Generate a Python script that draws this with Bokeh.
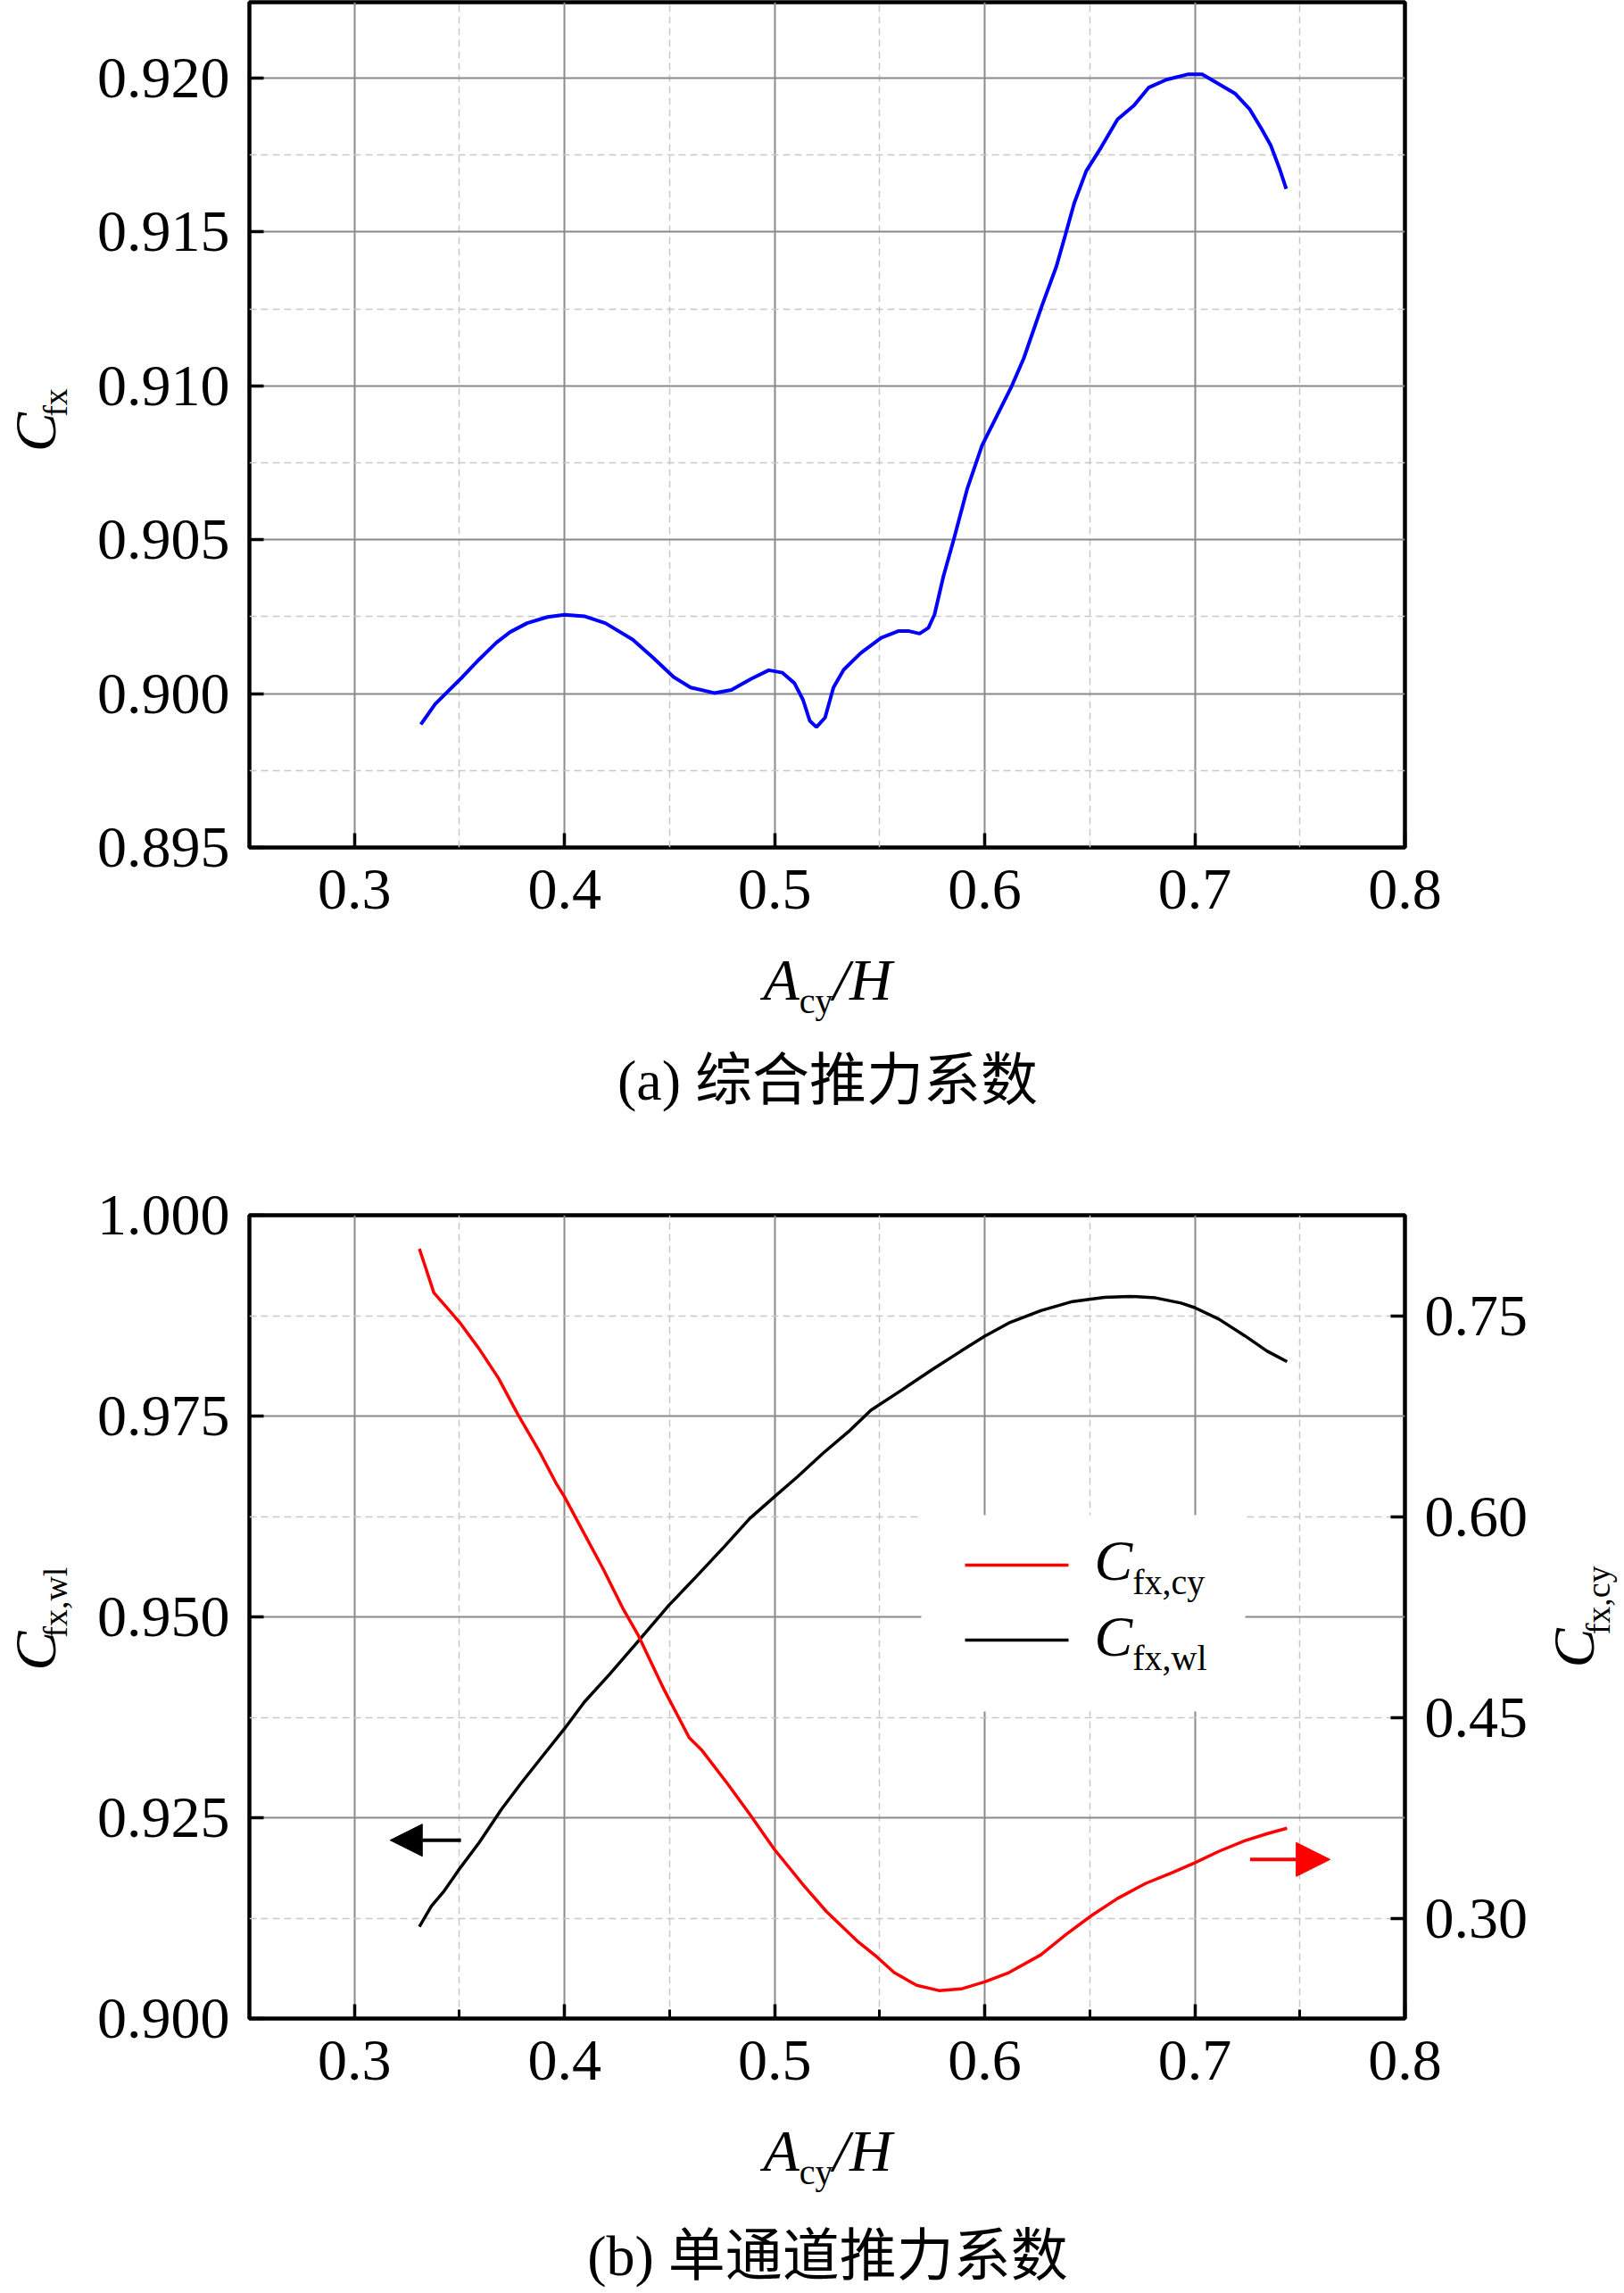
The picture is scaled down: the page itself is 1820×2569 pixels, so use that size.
import math
from bokeh.plotting import figure
from bokeh.models import (Range1d, LinearAxis, FixedTicker, PrintfTickFormatter,
                          Label, Arrow, NormalHead)
from bokeh.layouts import column, row
from bokeh.embed import file_html
from bokeh.resources import INLINE

# ---------------- data ----------------
# (a) combined thrust coefficient
acy_a = [0.3316, 0.3384, 0.3449, 0.3514, 0.3595, 0.3676, 0.3741, 0.3822, 0.3919, 0.4000,
         0.4097, 0.4194, 0.4324, 0.4421, 0.4519, 0.4600, 0.4713, 0.4794, 0.4891, 0.4972,
         0.5037, 0.5094, 0.5135, 0.5167, 0.5199, 0.5240, 0.5280, 0.5329, 0.5410, 0.5507,
         0.5588, 0.5640, 0.5690, 0.5732, 0.5761, 0.5803, 0.5853, 0.5916, 0.5987, 0.6044,
         0.6129, 0.6186, 0.6271, 0.6341, 0.6384, 0.6426, 0.6483, 0.6554, 0.6632, 0.6710,
         0.6780, 0.6865, 0.6965, 0.7035, 0.7106, 0.7191, 0.7262, 0.7319, 0.7361, 0.7404,
         0.7435]
cfx_a = [0.89900, 0.89966, 0.90010, 0.90054, 0.90112, 0.90166, 0.90200, 0.90229, 0.90249, 0.90256,
         0.90251, 0.90229, 0.90176, 0.90117, 0.90054, 0.90020, 0.90002, 0.90012, 0.90049, 0.90076,
         0.90068, 0.90034, 0.89980, 0.89912, 0.89891, 0.89922, 0.90020, 0.90078, 0.90132, 0.90181,
         0.90203, 0.90203, 0.90195, 0.90214, 0.90257, 0.90380, 0.90502, 0.90664, 0.90806, 0.90884,
         0.91000, 0.91090, 0.91258, 0.91388, 0.91491, 0.91594, 0.91698, 0.91775, 0.91866, 0.91911,
         0.91969, 0.91995, 0.92012, 0.92012, 0.91984, 0.91950, 0.91898, 0.91833, 0.91782, 0.91704,
         0.91640]

# (b) single channel thrust coefficients
acy_wl = [0.3309, 0.3366, 0.3427, 0.3503, 0.3594, 0.3700, 0.3791, 0.3897, 0.4000, 0.4094,
          0.4215, 0.4352, 0.4497, 0.4625, 0.4761, 0.4882, 0.4998, 0.5110, 0.5231, 0.5352,
          0.5458, 0.5600, 0.5751, 0.5888, 0.6000, 0.6115, 0.6267, 0.6418, 0.6570, 0.6691,
          0.6813, 0.6934, 0.6999, 0.7116, 0.7237, 0.7343, 0.7439]
cfx_wl = [0.91144, 0.91398, 0.91588, 0.91874, 0.92192, 0.92605, 0.92922, 0.93272, 0.93609, 0.93939,
          0.94288, 0.94701, 0.95146, 0.95496, 0.95877, 0.96226, 0.96493, 0.96747, 0.97039, 0.97306,
          0.97573, 0.97815, 0.98081, 0.98310, 0.98494, 0.98659, 0.98812, 0.98926, 0.98977, 0.98990,
          0.98971, 0.98907, 0.98850, 0.98704, 0.98501, 0.98310, 0.98177]

acy_cy = [0.3309, 0.3336, 0.3378, 0.3457, 0.3503, 0.3594, 0.3685, 0.3776, 0.3882, 0.3958,
          0.4000, 0.4094, 0.4185, 0.4276, 0.4352, 0.4473, 0.4594, 0.4655, 0.4776, 0.4882,
          0.4998, 0.5140, 0.5246, 0.5398, 0.5489, 0.5569, 0.5676, 0.5782, 0.5888, 0.6000,
          0.6115, 0.6267, 0.6388, 0.6509, 0.6631, 0.6767, 0.6889, 0.6999, 0.7116, 0.7237,
          0.7343, 0.7439]
cfx_cy = [0.7999, 0.7872, 0.7671, 0.7529, 0.7445, 0.7251, 0.7034, 0.6767, 0.6481, 0.6253,
          0.6146, 0.5871, 0.5605, 0.5318, 0.5109, 0.4709, 0.4346, 0.4251, 0.4003, 0.3775,
          0.3515, 0.3241, 0.3050, 0.2822, 0.2707, 0.2593, 0.2498, 0.2459, 0.2471, 0.2524,
          0.2593, 0.2726, 0.2879, 0.3020, 0.3146, 0.3260, 0.3337, 0.3413, 0.3500, 0.3577,
          0.3630, 0.3672]

x_ticks = [0.3, 0.4, 0.5, 0.6, 0.7, 0.8]
x_minor = [0.35, 0.45, 0.55, 0.65, 0.75]
ya_ticks = [0.895, 0.900, 0.905, 0.910, 0.915, 0.920]
ya_minor = [0.8975, 0.9025, 0.9075, 0.9125, 0.9175]
yb_ticks = [0.900, 0.925, 0.950, 0.975, 1.000]
yb_minor = [0.9125, 0.9375, 0.9625, 0.9875]
yr_ticks = [0.30, 0.45, 0.60, 0.75]

caption_a = "(a) 综合推力系数"
caption_b = "(b) 单通道推力系数"

# ---------------- layout constants (page pixels, origin top-left) ----------------
SERIF = "Liberation Serif"
CAP_FONT = "Liberation Serif, Noto Sans CJK SC"
MID_H = 0.45                  # label anchor above the baseline (horizontal text), in em
MID_V = 0.3375                # same for rotated text
LW = 100                      # width of the left label strips
FL, FR = 279, 1574            # frame left / right on page
FW = FR - FL
X0, X1 = 0.25, 0.8
A_TOP, A_BOT = 2, 949         # plot (a) frame top / bottom
A_H = 1056                    # plot (a) figure height
CA_H = 1300 - A_H             # caption strip (a) height
B_Y0 = 1300                   # top of plot (b) on page
B_TOP, B_BOT = 1361, 2261     # plot (b) frame top / bottom
B_H = 1068
CB_H = 2566 - (B_Y0 + B_H)
PB_W = 1612
RX0, RX1 = LW + PB_W, 1818    # right label strip
YA0, YA1 = 0.895, 0.922465
YB0, YB1 = 0.900, 1.000
YR0, YR1 = 0.225, 0.825


def fx(px):
    return X0 + (px - FL) * (X1 - X0) / FW


def fyb(py):
    return YB1 - (py - B_TOP) * (YB1 - YB0) / (B_BOT - B_TOP)


def ident(v):
    return v


REG_W = {'f': 0.333, 'x': 0.5, 'c': 0.444, 'y': 0.5, 'w': 0.722, 'l': 0.278, ',': 0.25}
ITA_W = {'A': 0.611, 'C': 0.667, 'H': 0.722, '/': 0.278}


def twidth(text, size, italic):
    tab = ITA_W if italic else REG_W
    return sum(tab.get(ch, 0.5) for ch in text) * size


def runs(p, cx, cy, x_px, base_px, parts, angle=0.0):
    """Write text runs; base_px is the alphabetic baseline (y, or x when rotated)."""
    pos = x_px
    for text, size, italic, drop in parts:
        b = base_px + drop
        if angle == 0:
            lx, ly = pos, b - MID_H * size
        else:
            lx, ly = b - MID_V * size, pos
        p.add_layout(Label(x=cx(lx), y=cy(ly), text=text, text_font=SERIF,
                           text_font_size=f"{size}px",
                           text_font_style="italic" if italic else "normal",
                           angle=angle, text_align="left", text_baseline="middle",
                           text_color="black"))
        w = twidth(text, size, italic)
        pos = pos + w if angle == 0 else pos - w


def centered_runs(p, x_center, base_px, parts):
    total = sum(twidth(t, s, i) for t, s, i, _ in parts)
    runs(p, ident, ident, x_center - total / 2, base_px, parts)


def vruns(p, base_x, y_center, parts):
    total = sum(twidth(t, s, i) for t, s, i, _ in parts)
    runs(p, ident, ident, y_center + total / 2, base_x, parts, angle=math.pi / 2)


def strip(x0, x1, y0, y1):
    """Blank figure whose data coordinates are page pixels (text only)."""
    s = figure(width=x1 - x0, height=y1 - y0, x_range=Range1d(x0, x1), y_range=Range1d(y1, y0),
               min_border=0, x_axis_location=None, y_axis_location=None,
               output_backend="svg", toolbar_location=None)
    s.grid.visible = False
    s.outline_line_color = None
    s.background_fill_color = "white"
    s.border_fill_color = "white"
    return s


def style_axis(ax, standoff):
    ax.axis_line_color = None
    ax.major_tick_in = 16
    ax.major_tick_out = 0
    ax.major_tick_line_width = 3.5
    ax.major_tick_line_color = "black"
    ax.minor_tick_in = 0
    ax.minor_tick_out = 0
    ax.major_label_text_font = SERIF
    ax.major_label_text_font_size = "66px"
    ax.major_label_text_color = "black"
    ax.major_label_standoff = standoff


def style(p):
    p.outline_line_color = "black"
    p.outline_line_width = 4.5
    p.background_fill_color = "white"
    p.border_fill_color = "white"
    for g in (p.xgrid, p.ygrid):
        g.grid_line_color = "#8a8a8a"
        g.grid_line_width = 2
        g.minor_grid_line_color = "#c8c8c8"
        g.minor_grid_line_width = 1.5
        g.minor_grid_line_dash = "8 5"


def caption(p, x_center, y_center, text):
    p.add_layout(Label(x=x_center, y=y_center, text=text, text_font=CAP_FONT,
                       text_font_size="64px", text_align="center", text_baseline="middle",
                       text_color="black"))


XLABEL = [("A", 66, True, 0), ("cy", 40, False, 12), ("/H", 66, True, 0)]

# ---------------- plot (a) ----------------
pa = figure(frame_width=FW, frame_height=A_BOT - A_TOP,
            min_border_left=FL - LW, min_border_right=1804 - FR,
            min_border_top=A_TOP, min_border_bottom=A_H - A_BOT,
            x_range=Range1d(X0, X1), y_range=Range1d(YA0, YA1),
            output_backend="svg", toolbar_location=None)
pa.xaxis.ticker = FixedTicker(ticks=x_ticks, minor_ticks=x_minor)
pa.yaxis.ticker = FixedTicker(ticks=ya_ticks, minor_ticks=ya_minor)
pa.xaxis.formatter = PrintfTickFormatter(format="%.1f")
pa.yaxis.formatter = PrintfTickFormatter(format="%.3f")
style(pa)
style_axis(pa.xaxis[0], 25)
style_axis(pa.yaxis[0], 22)
pa.line(acy_a, cfx_a, line_color="#0000ff", line_width=4)

yl_a = strip(0, LW, 0, A_H)
vruns(yl_a, 61, 473 + 51, [("C", 66, True, 0), ("fx", 38, False, 13)])

cap_a = strip(0, 1804, A_H, A_H + CA_H)
centered_runs(cap_a, 927, 1127, XLABEL)
caption(cap_a, 927, 1210, caption_a)

# ---------------- plot (b) ----------------
pb = figure(frame_width=FW, frame_height=B_BOT - B_TOP,
            min_border_left=FL - LW, min_border_right=PB_W - (FL - LW) - FW,
            min_border_top=B_TOP - B_Y0, min_border_bottom=B_H - (B_BOT - B_Y0),
            x_range=Range1d(X0, X1), y_range=Range1d(YB0, YB1),
            output_backend="svg", toolbar_location=None)
pb.xaxis.ticker = FixedTicker(ticks=x_ticks, minor_ticks=x_minor)
pb.yaxis.ticker = FixedTicker(ticks=yb_ticks, minor_ticks=yb_minor)
pb.xaxis.formatter = PrintfTickFormatter(format="%.1f")
pb.yaxis.formatter = PrintfTickFormatter(format="%.3f")
style(pb)
style_axis(pb.xaxis[0], 25)
style_axis(pb.yaxis[0], 22)
pb.xaxis[0].minor_tick_in = 10
pb.xaxis[0].minor_tick_line_width = 3
pb.xaxis[0].minor_tick_line_color = "black"

pb.extra_y_ranges = {"right": Range1d(YR0, YR1)}
raxis = LinearAxis(y_range_name="right", ticker=FixedTicker(ticks=yr_ticks),
                   formatter=PrintfTickFormatter(format="%.2f"))
style_axis(raxis, 22)
pb.add_layout(raxis, "right")

pb.line(acy_wl, cfx_wl, line_color="black", line_width=3.5)
pb.line(acy_cy, cfx_cy, line_color="#ff0000", line_width=3.5, y_range_name="right")

# legend (white box, sample lines, labels)
pb.quad(left=[fx(1032)], right=[fx(1395)], top=[fyb(1697)], bottom=[fyb(1917)],
        fill_color="white", line_color=None)
pb.line([fx(1081), fx(1197)], [fyb(1753), fyb(1753)], line_color="#ff0000", line_width=3.5)
pb.line([fx(1081), fx(1197)], [fyb(1837), fyb(1837)], line_color="black", line_width=3.5)
runs(pb, fx, fyb, 1226, 1777, [("C", 64, True, 0), ("fx,cy", 40, False, 13)])
runs(pb, fx, fyb, 1226, 1862, [("C", 64, True, 0), ("fx,wl", 40, False, 13)])

# arrows pointing to the relevant axes
pb.add_layout(Arrow(end=NormalHead(size=36, fill_color="black", line_color="black"),
                    x_start=0.3507, y_start=0.9222, x_end=0.317, y_end=0.9222,
                    line_color="black", line_width=4))
pb.add_layout(Arrow(end=NormalHead(size=38, fill_color="#ff0000", line_color="#ff0000"),
                    x_start=0.7263, y_start=0.9198, x_end=0.7644, y_end=0.9198,
                    line_color="#ff0000", line_width=4))

yl_b = strip(0, LW, B_Y0, B_Y0 + B_H)
vruns(yl_b, 61, 1811 + 33, [("C", 66, True, 0), ("fx,wl", 38, False, 13)])
yr_b = strip(RX0, RX1, B_Y0, B_Y0 + B_H)
vruns(yr_b, 1782, 1808 + 33, [("C", 66, True, 0), ("fx,cy", 38, False, 18)])

cap_b = strip(0, 1812, B_Y0 + B_H, B_Y0 + B_H + CB_H)
centered_runs(cap_b, 927, 2439, XLABEL)
caption(cap_b, 927, 2527, caption_b)

layout = column(row(yl_a, pa, spacing=0), cap_a, row(yl_b, pb, yr_b, spacing=0), cap_b, spacing=0)
open("out.html", "w").write(file_html(layout, INLINE))
